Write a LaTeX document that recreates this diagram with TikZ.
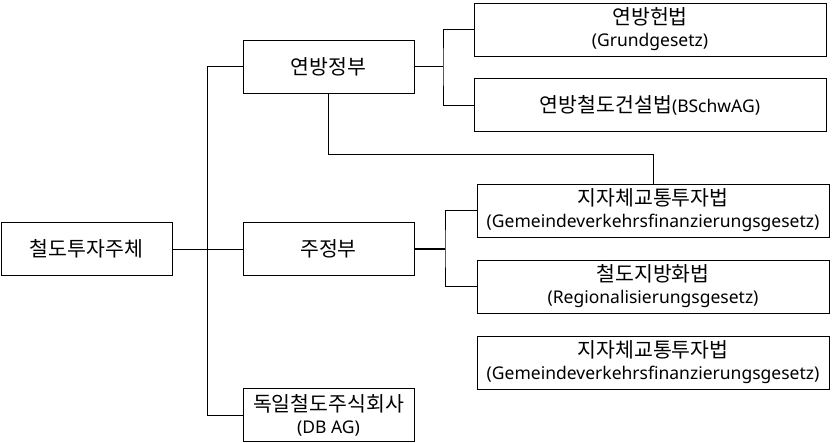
\documentclass[tikz,border=0pt]{standalone}
\usepackage{fontspec}
\setmainfont{Noto Sans}
\newfontfamily\krfont{Noto Sans CJK KR}
\newcommand\kr[1]{{\krfont\fontsize{20.5}{22}\selectfont #1}}
\begin{document}
\begin{tikzpicture}[x=1pt,y=-1pt,
  box/.style={draw,line width=0.8pt,align=center,inner sep=0pt,font=\fontsize{17.5}{22}\selectfont},
  small/.style={box,minimum width=171pt,minimum height=53pt},
  law/.style={box,minimum width=352pt,minimum height=53pt},
  link/.style={line width=0.8pt}]
\useasboundingbox (0,0) rectangle (840,443);
\node[small] (root) at (86.5,249) {\kr{철도투자주체}};
\node[small] (fed) at (328.5,66.5) {\kr{연방정부}};
\node[small] (state) at (328.5,249) {\kr{주정부}};
\node[small] (dbag) at (328.5,415) {\kr{독일철도주식회사}\\(DB AG)};
\node[law] (gg) at (650,29.5) {\kr{연방헌법}\\(Grundgesetz)};
\node[law] (bschwag) at (650,105) {\kr{연방철도건설법}(BSchwAG)};
\node[law] (gvfg) at (653,210.5) {\kr{지자체교통투자법}\\(Gemeindeverkehrsfinanzierungsgesetz)};
\node[law] (regg) at (653,286.5) {\kr{철도지방화법}\\(Regionalisierungsgesetz)};
\node[law] (gvfgb) at (653,362.5) {\kr{지자체교통투자법}\\(Gemeindeverkehrsfinanzierungsgesetz)};

\coordinate (fj) at (443,66.5);
\coordinate (sj) at (445,249);
\draw[link] (root) -- (state);
\draw[link] (fed.west) -- ++(-35.4,0) |- (dbag.west);
\draw[link] (fed) -- (fj);
\draw[link] (gg.west) -| (fj) |- (bschwag.west);
\draw[link] (fed.south) -- ++(0,61) -| (gvfg.north);
\draw[line width=1.6pt] (state) -- (sj);
\draw[link] (gvfg.west) -| (sj) |- (regg.west);
\end{tikzpicture}
\end{document}
